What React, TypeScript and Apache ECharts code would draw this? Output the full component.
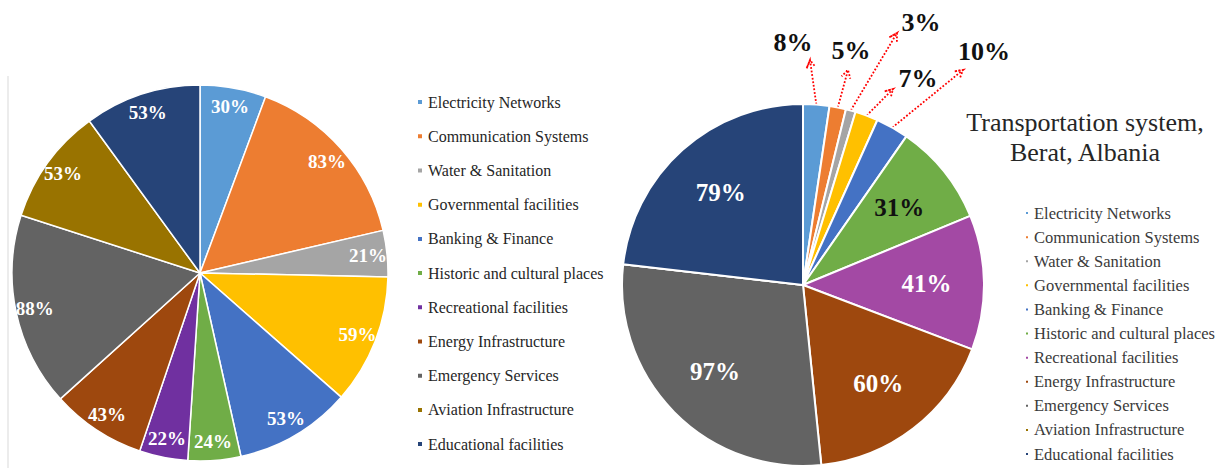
import React, { useEffect, useRef } from "react";
import * as echarts from "echarts";

const categories = [
  "Electricity Networks",
  "Communication Systems",
  "Water & Sanitation",
  "Governmental facilities",
  "Banking & Finance",
  "Historic and cultural places",
  "Recreational facilities",
  "Energy Infrastructure",
  "Emergency Services",
  "Aviation Infrastructure",
  "Educational facilities",
];
const leftValues = [30, 83, 21, 59, 53, 24, 22, 43, 88, 53, 53];
const rightValues = [8, 5, 3, 7, 10, 31, 41, 60, 97, 0, 79];
const leftColors = ["#5B9BD5", "#ED7D31", "#A5A5A5", "#FFC000", "#4472C4", "#70AD47", "#7030A0", "#9E480E", "#636363", "#997300", "#264478"];
const rightColors = ["#5B9BD5", "#ED7D31", "#A5A5A5", "#FFC000", "#4472C4", "#70AD47", "#A349A4", "#9E480E", "#636363", "#997300", "#264478"];
const rightTitle = "Transportation system,\nBerat, Albania";

// indices of right-pie slices labelled outside with arrows
const outerIdx = [0, 1, 2, 3, 4];
// label centre and arrow tip for those (layout only)
const outerLabelPos = [[793, 42], [851, 50], [921, 22], [918, 78], [984, 51]];
const outerArrowTip = [[810, 60], [848, 70], [897, 33], [893, 89], [963, 70]];
const darkLabelIdx = [5];

const FONT = "Liberation Serif";

function pt(p: any): [number, number] {
  if (Array.isArray(p)) return [p[0], p[1]];
  return [p.x, p.y];
}

export default function App() {
  const ref = useRef<HTMLDivElement>(null);
  useEffect(() => {
    document.body.style.margin = "0";
    const chart = echarts.init(ref.current!, null, { renderer: "svg" });

    const leftMainData = categories.map((name, i) => ({
      name,
      value: leftValues[i],
      itemStyle: { color: leftColors[i] },
    }));
    const leftLabelData = categories.map((name, i) => ({ name, value: leftValues[i] }));

    const rightMainData = categories.map((name, i) => ({
      name,
      value: rightValues[i],
      itemStyle: { color: rightColors[i] },
      label: { show: outerIdx.includes(i) },
      labelLine: { show: outerIdx.includes(i) },
    }));
    const rightLabelData = categories.map((name, i) => ({
      name,
      value: rightValues[i],
      label: {
        show: !outerIdx.includes(i) && rightValues[i] > 0,
        color: darkLabelIdx.includes(i) ? "#111" : "#fff",
      },
    }));

    const option: any = {
      animation: false,
      backgroundColor: "#fff",
      title: {
        text: rightTitle,
        left: 1085,
        top: 107,
        padding: 0,
        textAlign: "center",
        textStyle: {
          fontFamily: FONT,
          fontWeight: "normal",
          fontSize: 26,
          lineHeight: 30,
          color: "#262626",
        },
      },
      graphic: [
        {
          type: "line",
          shape: { x1: 8, y1: 76, x2: 8, y2: 468 },
          style: { stroke: "#d9d9d9", lineWidth: 1 },
          silent: true,
        },
      ],
      legend: [
        {
          orient: "vertical",
          left: 416,
          top: 85,
          padding: 0,
          icon: "rect",
          itemWidth: 6,
          itemHeight: 6,
          itemGap: 0,
          selectedMode: false,
          textStyle: { fontFamily: FONT, fontSize: 16, lineHeight: 34.2, color: "#262626" },
          data: categories.map((name, i) => ({ name, itemStyle: { color: leftColors[i] } })),
        },
        {
          orient: "vertical",
          left: 1024,
          top: 201,
          padding: 0,
          icon: "rect",
          itemWidth: 4,
          itemHeight: 4,
          itemGap: 0,
          selectedMode: false,
          textStyle: { fontFamily: FONT, fontSize: 16.5, lineHeight: 24.1, color: "#3a3a3a" },
          data: categories.map((name, i) => ({ name, itemStyle: { color: rightColors[i] } })),
        },
      ],
      series: [
        {
          type: "pie",
          center: [200, 273],
          radius: [0, 188],
          startAngle: 90,
          clockwise: true,
          label: { show: false },
          labelLine: { show: false },
          itemStyle: { borderColor: "#fff", borderWidth: 1.5 },
          emphasis: { disabled: true },
          data: leftMainData,
        },
        {
          type: "pie",
          center: [200, 273],
          radius: [144, 188],
          startAngle: 90,
          clockwise: true,
          silent: true,
          legendHoverLink: false,
          itemStyle: { color: "rgba(0,0,0,0)", borderWidth: 0 },
          emphasis: { disabled: true },
          label: {
            show: true,
            position: "inside",
            formatter: "{c}%",
            color: "#fff",
            fontFamily: FONT,
            fontWeight: "bold",
            fontSize: 19,
          },
          labelLine: { show: false },
          data: leftLabelData,
        },
        {
          type: "pie",
          center: [803, 285],
          radius: [0, 181],
          startAngle: 90,
          clockwise: true,
          itemStyle: { borderColor: "#fff", borderWidth: 2 },
          emphasis: { disabled: true },
          label: {
            position: "outside",
            formatter: "{c}%",
            color: "#111",
            fontFamily: FONT,
            fontWeight: "bold",
            fontSize: 26,
          },
          labelLine: {
            length: 20,
            length2: 10,
            lineStyle: { color: "#ff0000", type: "dotted", width: 1.8 },
          },
          labelLayout: (p: any) => {
            const k = outerIdx.indexOf(p.dataIndex);
            if (k < 0) return {};
            const [lx, ly] = outerLabelPos[k];
            const [tx, ty] = outerArrowTip[k];
            const pts = p.labelLinePoints;
            let sx = tx, sy = ty + 40;
            if (pts && pts.length) {
              [sx, sy] = pt(pts[0]);
            }
            const dx = tx - sx, dy = ty - sy;
            const len = Math.hypot(dx, dy) || 1;
            const ux = dx / len, uy = dy / len;
            const b = 9, a = Math.PI / 6;
            const rot = (ang: number): [number, number] => [
              ux * Math.cos(ang) - uy * Math.sin(ang),
              ux * Math.sin(ang) + uy * Math.cos(ang),
            ];
            const r1 = rot(a), r2 = rot(-a);
            return {
              x: lx,
              y: ly,
              align: "center",
              verticalAlign: "middle",
              labelLinePoints: [
                [sx, sy],
                [tx, ty],
                [tx - b * r1[0], ty - b * r1[1]],
                [tx, ty],
                [tx - b * r2[0], ty - b * r2[1]],
              ],
            };
          },
          data: rightMainData,
        },
        {
          type: "pie",
          center: [803, 285],
          radius: [60, 181],
          startAngle: 90,
          clockwise: true,
          silent: true,
          legendHoverLink: false,
          itemStyle: { color: "rgba(0,0,0,0)", borderWidth: 0 },
          emphasis: { disabled: true },
          label: {
            position: "inside",
            formatter: "{c}%",
            fontFamily: FONT,
            fontWeight: "bold",
            fontSize: 25,
          },
          labelLine: { show: false },
          data: rightLabelData,
        },
      ],
    };
    chart.setOption(option);
    return () => chart.dispose();
  }, []);
  return (
    <div
      ref={ref}
      style={{ width: 1223, height: 468, position: "absolute", left: 0, top: 0 }}
    />
  );
}
